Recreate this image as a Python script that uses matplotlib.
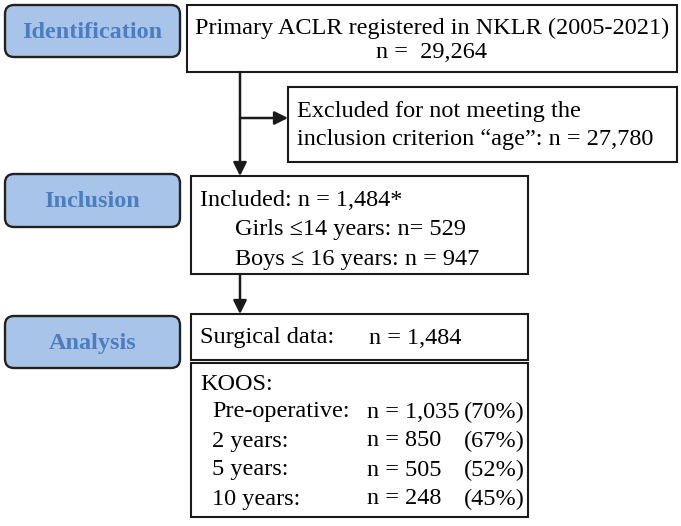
import matplotlib.pyplot as plt
from matplotlib.patches import FancyBboxPatch, Rectangle

# stage labels on the left
stages = ['Identification', 'Inclusion', 'Analysis']

# text of the boxes
top_lines = ['Primary ACLR registered in NKLR (2005-2021)', 'n =  29,264']
excl_lines = ['Excluded for not meeting the', 'inclusion criterion \u201cage\u201d: n = 27,780']
incl_lines = ['Included: n = 1,484*', 'Girls \u226414 years: n= 529', 'Boys \u2264 16 years: n = 947']
surg_label, surg_n = 'Surgical data:', 'n = 1,484'
koos_title = 'KOOS:'
koos_names = ['Pre-operative:', '2 years:', '5 years:', '10 years:']
koos_n = ['n = 1,035', 'n = 850', 'n = 505', 'n = 248']
koos_pct = ['(70%)', '(67%)', '(52%)', '(45%)']

W, H = 681, 526
fig = plt.figure(figsize=(W / 100, H / 100), dpi=100)
ax = fig.add_axes([0, 0, 1, 1])
ax.set_xlim(0, W)
ax.set_ylim(H, 0)
ax.axis('off')

font = 'Liberation Serif'
fs = 17.5

# stage label boxes (rounded, light blue)
label_boxes = [(5, 5, 175, 52), (5, 174, 175, 53), (5, 316, 175, 52)]
for name, (x, y, w, h) in zip(stages, label_boxes):
    ax.add_patch(FancyBboxPatch((x + 3, y + 3), w - 6, h - 6,
                                boxstyle='round,pad=3,rounding_size=9',
                                fc='#a9c4e9', ec='#222222', lw=1.7))
    ax.text(x + w / 2, y + h / 2 + 1, name, ha='center', va='center',
            family=font, fontsize=fs, fontweight='bold', color='#4a7ec0')

def box(x, y, w, h):
    ax.add_patch(Rectangle((x, y), w, h, fc='white', ec='#1a1a1a', lw=1.5))

# top box
box(187, 5, 490, 67)
ax.text(432, 28, top_lines[0], ha='center', va='center', family=font, fontsize=fs)
ax.text(432, 53, top_lines[1], ha='center', va='center', family=font, fontsize=fs)

# excluded box
box(288, 87, 389, 75)
for i, t in enumerate(excl_lines):
    ax.text(297, 111 + 29 * i, t, ha='left', va='center', family=font, fontsize=fs)

# included box
box(191, 176, 337, 98)
ax.text(200, 201, incl_lines[0], ha='left', va='center', family=font, fontsize=fs)
for i, t in enumerate(incl_lines[1:]):
    ax.text(235, 230 + 29 * i, t, ha='left', va='center', family=font, fontsize=fs)

# surgical data box
box(191, 314, 337, 46)
ax.text(200, 338, surg_label, ha='left', va='center', family=font, fontsize=fs)
ax.text(369, 338, surg_n, ha='left', va='center', family=font, fontsize=fs)

# KOOS box
box(191, 363, 337, 154)
ax.text(200, 384, koos_title, ha='left', va='center', family=font, fontsize=fs)
for i in range(len(koos_names)):
    yy = 412 + 29 * i
    ax.text(212, yy, koos_names[i], ha='left', va='center', family=font, fontsize=fs)
    ax.text(367, yy, koos_n[i], ha='left', va='center', family=font, fontsize=fs)
    ax.text(525, yy, koos_pct[i], ha='right', va='center', family=font, fontsize=fs)

# arrows
arrow = dict(arrowstyle='-|>', color='#1a1a1a', lw=1.8, mutation_scale=20,
             shrinkA=0, shrinkB=0)
ax.annotate('', xy=(240, 176), xytext=(240, 72), arrowprops=arrow)
ax.annotate('', xy=(288, 118), xytext=(240, 118), arrowprops=arrow)
ax.annotate('', xy=(240, 314), xytext=(240, 274), arrowprops=arrow)

fig.savefig('out.png', dpi=100)
